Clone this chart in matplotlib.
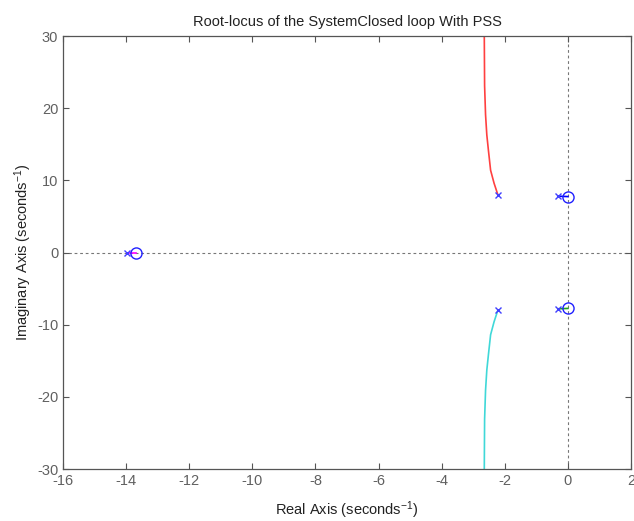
import matplotlib
matplotlib.use('Agg')
import matplotlib.pyplot as plt
import numpy as np

plt.rcParams['font.family'] = ['Liberation Sans', 'DejaVu Sans']
plt.rcParams['mathtext.fontset'] = 'custom'
plt.rcParams['mathtext.rm'] = 'Liberation Sans'
plt.rcParams['mathtext.it'] = 'Liberation Sans'
plt.rcParams['axes.unicode_minus'] = False

# open-loop poles and zeros
pole_re = [-2.22, -2.22, -0.32, -0.32, -13.97]
pole_im = [8.0, -8.0, 7.8, -7.8, -0.1]
zero_re = [0.0, 0.0, -13.68]
zero_im = [7.75, -7.75, -0.1]

# upper branch (red), lower branch is its mirror (cyan)
br_re = [-2.22, -2.34, -2.45, -2.52, -2.57, -2.61, -2.64, -2.65, -2.67]
br_im = [8.0, 9.6, 11.4, 14.2, 16.3, 19.1, 23.1, 30.0, 40.0]

# short branches pole -> zero
sh1_re = [-0.32, 0.0]
sh1_im = [7.8, 7.75]
sh2_re = [-0.32, 0.0]
sh2_im = [-7.8, -7.75]
sh3_re = [-13.97, -13.68]
sh3_im = [-0.1, -0.1]

xticks = np.arange(-16, 3, 2)
yticks = np.arange(-30, 31, 10)

fig = plt.figure(figsize=(6.34, 5.21), dpi=100)
ax = fig.add_axes([0.0994, 0.0998, 0.8959, 0.8311])

ax.axhline(0, color='#777777', ls=(0, (2.5, 2.5)), lw=0.8, zorder=1)
ax.axvline(0, color='#777777', ls=(0, (2.5, 2.5)), lw=0.8, zorder=1)

ax.plot(br_re, br_im, color='#ff4040', lw=1.2)
ax.plot(br_re, -np.array(br_im), color='#40d8d8', lw=1.2)
ax.plot(sh1_re, sh1_im, color='#0000ff', lw=1.2)
ax.plot(sh2_re, sh2_im, color='#20a020', lw=1.2)
ax.plot(sh3_re, sh3_im, color='#ff00ff', lw=1.2)

ax.plot(pole_re, pole_im, ls='none', marker='x', color='#4040ff', ms=5, mew=1)
ax.plot(zero_re, zero_im, ls='none', marker='o', mfc='none', mec='#2020ff', ms=8, mew=1)

ax.set_xlim(-16, 2)
ax.set_ylim(-30, 30)
ax.set_xticks(xticks)
ax.set_yticks(yticks)
ax.tick_params(direction='in', top=True, right=True, length=4, width=0.8,
               color='#555555', labelcolor='#606060', labelsize=10.5)
for s in ax.spines.values():
    s.set_color('#555555')
    s.set_linewidth(0.9)

ax.set_xlabel('Real Axis (seconds$^{-1}$)', fontsize=10.5, color='#222222', labelpad=8)
ax.set_ylabel('Imaginary Axis (seconds$^{-1}$)', fontsize=10.5, color='#222222', labelpad=2)
ax.set_title('Root-locus of the SystemClosed loop With PSS', fontsize=10.5,
             color='#222222', pad=7)

fig.savefig('out.png', dpi=100)
